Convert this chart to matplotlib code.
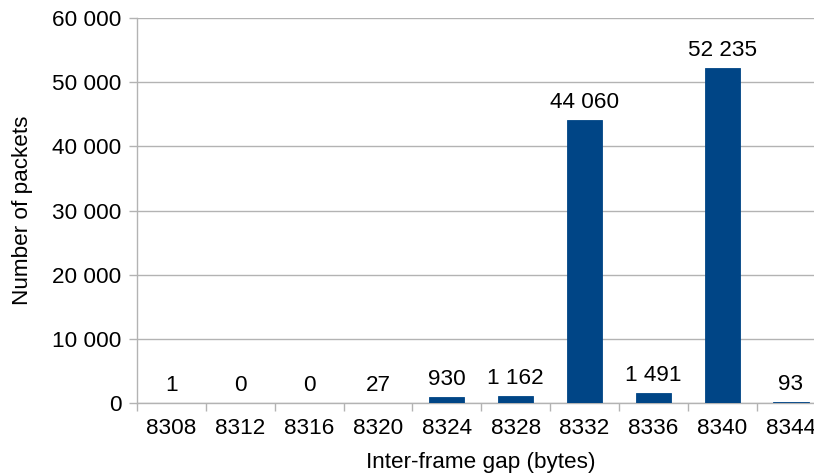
import matplotlib.pyplot as plt

plt.rcParams['font.family'] = ['Liberation Sans', 'DejaVu Sans']

gaps = ['8308', '8312', '8316', '8320', '8324', '8328', '8332', '8336', '8340', '8344']
packets = [1, 0, 0, 27, 930, 1162, 44060, 1491, 52235, 93]
yticks = [0, 10000, 20000, 30000, 40000, 50000, 60000]


def fmt(v):
    return f'{v:,}'.replace(',', ' ')


fs = 16.2
fig = plt.figure(figsize=(8.14, 4.74), dpi=100)
ax = fig.add_axes([0.1683, 0.1498, 0.8458, 0.8122])

x = list(range(len(gaps)))
edges = ['#004586' if v > 0 else 'none' for v in packets]
bars = ax.bar(x, packets, width=0.51, color='#004586', edgecolor=edges,
              linewidth=0.6, zorder=3)
ax.bar_label(bars, labels=[fmt(v) for v in packets], padding=5, fontsize=fs)

ax.set_xlim(-0.5, len(gaps) - 0.5)
ax.set_ylim(0, 60000)
ax.set_yticks(yticks)
ax.set_yticklabels([fmt(v) for v in yticks])
ax.set_xticks(x)
ax.set_xticklabels(gaps)
ax.set_xticks([i - 0.5 for i in range(len(gaps) + 1)], minor=True)

ax.grid(axis='y', color='#b3b3b3', linewidth=1, zorder=0)
for s in ['top', 'right']:
    ax.spines[s].set_visible(False)
for s in ['left', 'bottom']:
    ax.spines[s].set_color('#b3b3b3')
    ax.spines[s].set_linewidth(1)

ax.tick_params(axis='y', length=6, width=1, color='#b3b3b3', labelsize=fs, pad=5)
ax.tick_params(axis='x', which='major', length=0, labelsize=fs, pad=11)
ax.tick_params(axis='x', which='minor', length=6, width=1, color='#b3b3b3')

ax.set_xlabel('Inter-frame gap (bytes)', fontsize=fs, labelpad=9)
ax.set_ylabel('Number of packets', fontsize=fs, labelpad=14)

fig.savefig('out.png', dpi=100)
